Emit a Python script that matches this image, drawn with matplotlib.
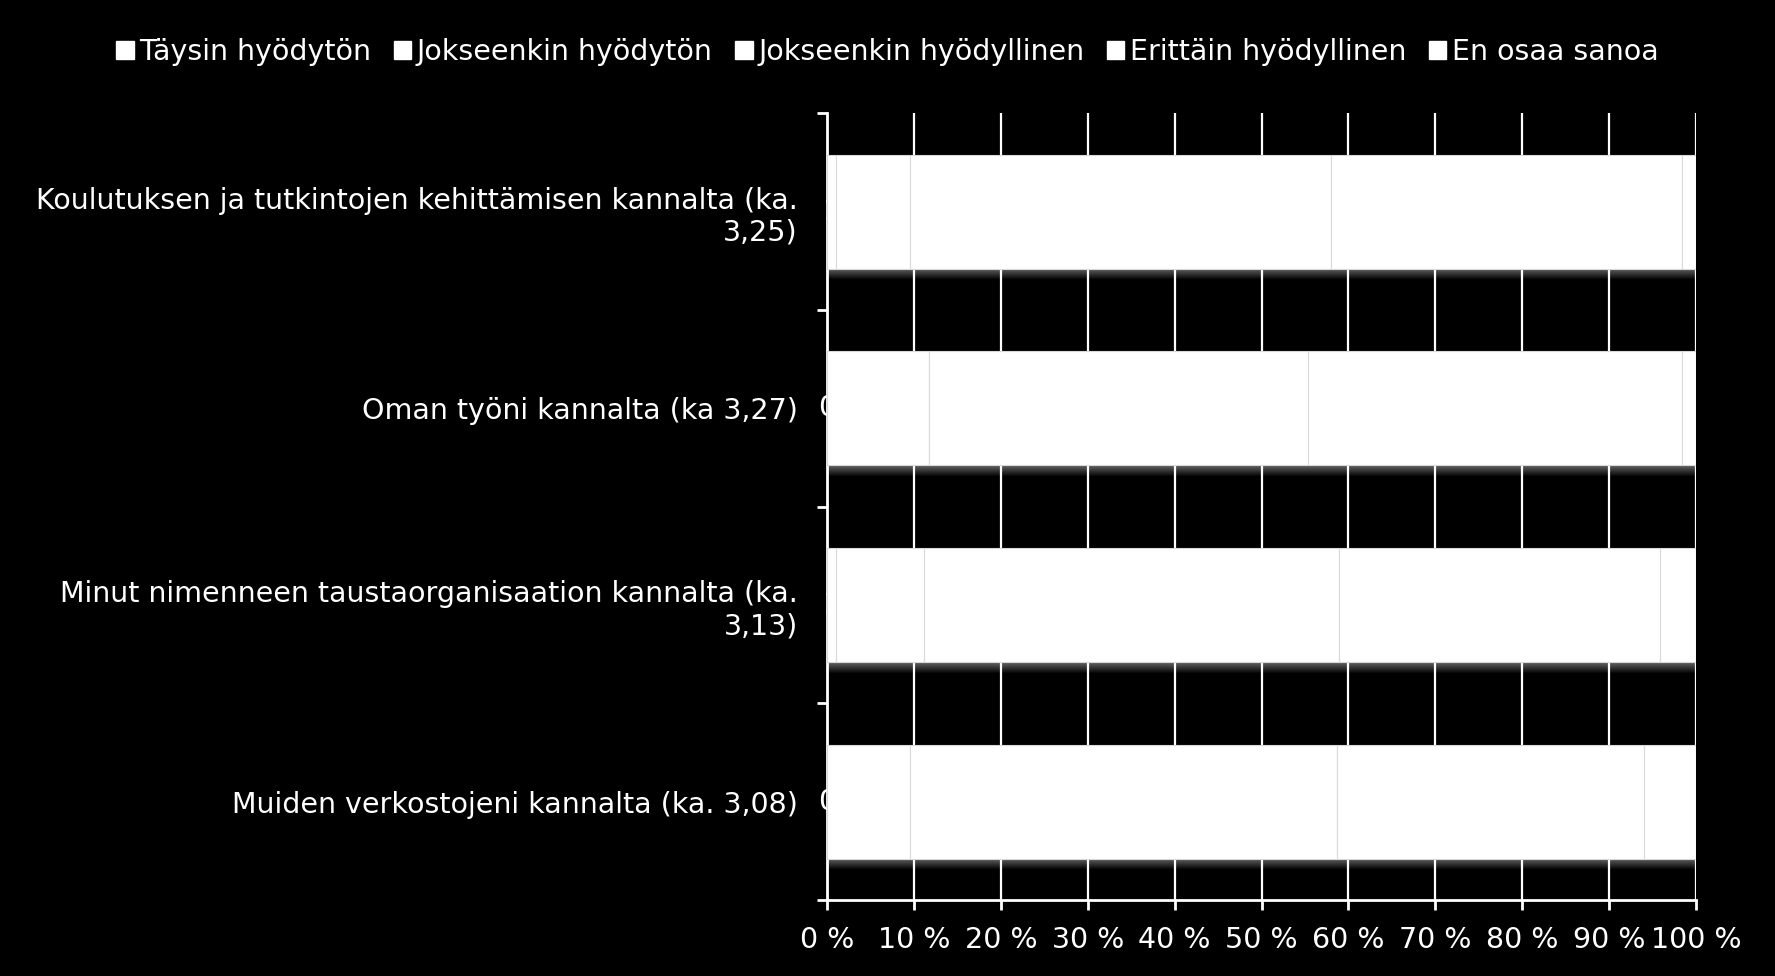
import matplotlib.pyplot as plt
from matplotlib.patches import Patch
import numpy as np

plt.rcParams['font.family'] = ['DejaVu Sans']

# kategoriat (ylhaalta alas)
categories = [
    "Koulutuksen ja tutkintojen kehittämisen kannalta (ka.\n3,25)",
    "Oman työni kannalta (ka 3,27)",
    "Minut nimenneen taustaorganisaation kannalta (ka.\n3,13)",
    "Muiden verkostojeni kannalta (ka. 3,08)",
]
series_names = ["Täysin hyödytön", "Jokseenkin hyödytön", "Jokseenkin hyödyllinen",
                "Erittäin hyödyllinen", "En osaa sanoa"]

# prosentit, luettu kuvasta
taysin_hyodyton = [1.0, 0.0, 1.0, 0.0]
jokseenkin_hyodyton = [8.5, 11.7, 10.1, 9.5]
jokseenkin_hyodyllinen = [48.5, 43.6, 47.8, 49.2]
erittain_hyodyllinen = [40.4, 43.1, 37.0, 35.3]
en_osaa_sanoa = [1.6, 1.6, 4.1, 6.0]

xtick_values = list(range(0, 101, 10))
xtick_labels = [f"{v} %" for v in xtick_values]

series = [taysin_hyodyton, jokseenkin_hyodyton, jokseenkin_hyodyllinen,
          erittain_hyodyllinen, en_osaa_sanoa]

FS = 20.5
bar_h = 0.58

fig = plt.figure(figsize=(17.75, 9.76), dpi=100, facecolor="black")
ax = fig.add_axes([0.466, 0.078, 0.4895, 0.806])
ax.set_facecolor("black")

y = np.arange(len(categories))
left = np.zeros(len(categories))
for vals in series:
    vals = np.array(vals)
    ax.barh(y, vals, left=left, height=bar_h, color="white",
            edgecolor="#d9d9d9", linewidth=0.8, zorder=3)
    for yi, l, v in zip(y, left, vals):
        ax.text(l + v / 2, yi, f"{v:.0f}", color="white", fontsize=FS,
                ha="center", va="center", zorder=2)
    left = left + vals

# varjo palkkien alla
shade = np.zeros((20, 1, 4))
shade[..., :3] = 1.0
shade[:, 0, 3] = np.linspace(0.4, 0.0, 20)
for yi in y:
    top = yi + bar_h / 2
    ax.imshow(shade, extent=(0, 100, top + 0.06, top), aspect="auto",
              interpolation="bilinear", zorder=2.5)

ax.set_xlim(0, 100)
ax.set_ylim(len(categories) - 0.5, -0.5)

ax.set_xticks(xtick_values)
ax.set_xticklabels(xtick_labels)
ax.set_yticks(y)
ax.set_yticklabels(categories, ha="right", multialignment="right")
ax.set_yticks(np.arange(-0.5, len(categories)), minor=True)

ax.tick_params(axis="x", colors="white", labelsize=FS, length=7, width=2, pad=12)
ax.tick_params(axis="y", which="major", colors="white", labelsize=FS, length=0, pad=21)
ax.tick_params(axis="y", which="minor", colors="white", length=7, width=2)

ax.grid(axis="x", color="white", linewidth=1.6, zorder=1)
ax.set_axisbelow(True)
for side in ["top", "right"]:
    ax.spines[side].set_visible(False)
for side in ["left", "bottom"]:
    ax.spines[side].set_color("white")
    ax.spines[side].set_linewidth(2)

handles = [Patch(facecolor="white", edgecolor="white") for _ in series_names]
fig.legend(handles, series_names, loc="center", bbox_to_anchor=(0.5, 0.947), ncol=5,
           frameon=False, fontsize=FS, labelcolor="white", handlelength=0.6,
           handleheight=0.6, handletextpad=0.2, columnspacing=0.8)

plt.savefig("out.png", dpi=100, facecolor="black")
